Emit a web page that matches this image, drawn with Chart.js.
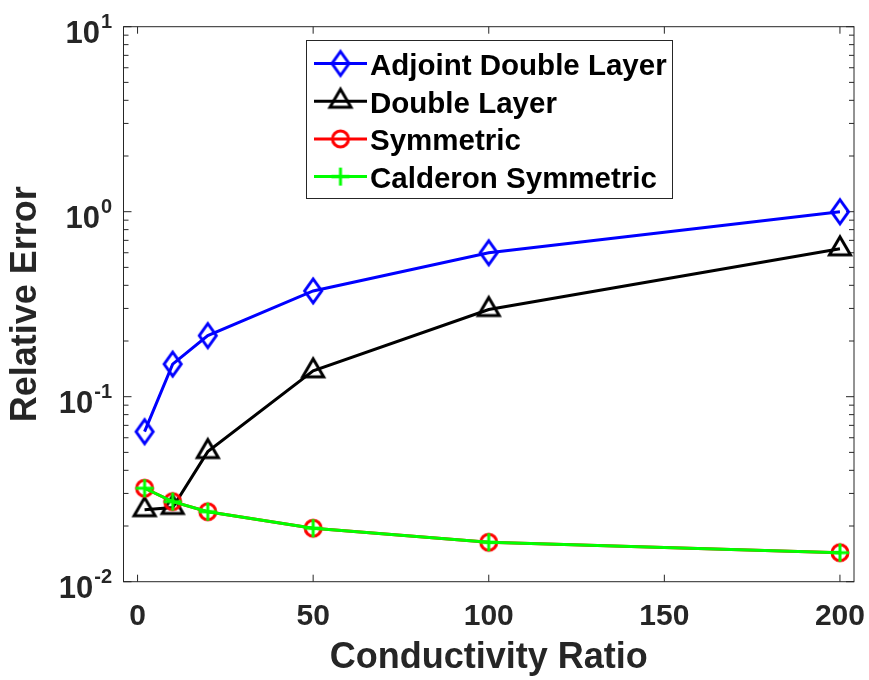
<!DOCTYPE html>
<html><head><meta charset="utf-8">
<script src="https://cdn.jsdelivr.net/npm/chart.js@4.4.0/dist/chart.umd.min.js"></script>
<style>html,body{margin:0;padding:0;background:#fff}#wrap{width:869px;height:680px}</style>
</head><body><div id="wrap"><canvas id="c" width="869" height="680"></canvas></div>
<script>
// ---- data ----
const conductivityRatio = [2, 10, 20, 50, 100, 200];
const adjointDoubleLayer = [0.0647, 0.150, 0.214, 0.373, 0.600, 1.0];
const doubleLayer = [0.0245, 0.0252, 0.0505, 0.138, 0.296, 0.63];
const symmetric = [0.0320, 0.0271, 0.0239, 0.01945, 0.01633, 0.01435];
const calderonSymmetric = [0.0320, 0.0271, 0.0239, 0.01945, 0.01633, 0.01435];
const seriesNames = ['Adjoint Double Layer', 'Double Layer', 'Symmetric', 'Calderon Symmetric'];
const xTickValues = [0, 50, 100, 150, 200];
const yDecades = [0.01, 0.1, 1, 10];
const yTickExponents = ['-2', '-1', '0', '1'];
const xAxisTitle = 'Conductivity Ratio';
const yAxisTitle = 'Relative Error';

const FONT = '"Liberation Sans", Arial, Helvetica, sans-serif';
const AXIS = '#262626';

function markerCanvas(type, color) {
  const c = document.createElement('canvas');
  let w = 26, h = 26;
  if (type === 'diamond') { w = 26; h = 32; }
  if (type === 'triangle') { w = 28; h = 32; }
  c.width = w; c.height = h;
  const g = c.getContext('2d');
  g.strokeStyle = color; g.lineWidth = 3; g.lineJoin = 'miter';
  const cx = w / 2, cy = h / 2;
  g.beginPath();
  if (type === 'diamond') {
    g.moveTo(cx, cy - 12); g.lineTo(cx + 8.5, cy); g.lineTo(cx, cy + 12); g.lineTo(cx - 8.5, cy); g.closePath();
  } else if (type === 'triangle') {
    g.moveTo(cx, cy - 12); g.lineTo(cx + 10.5, cy + 6); g.lineTo(cx - 10.5, cy + 6); g.closePath();
  } else if (type === 'circle') {
    g.arc(cx, cy, 8, 0, Math.PI * 2);
  } else if (type === 'plus') {
    g.moveTo(cx - 9, cy); g.lineTo(cx + 9, cy); g.moveTo(cx, cy - 9); g.lineTo(cx, cy + 9);
  }
  g.stroke();
  return c;
}

const markers = [
  markerCanvas('diamond', '#0000ff'),
  markerCanvas('triangle', '#000000'),
  markerCanvas('circle', '#ff0000'),
  markerCanvas('plus', '#00ff00')
];
const colors = ['#0000ff', '#000000', '#ff0000', '#00ff00'];
const seriesValues = [adjointDoubleLayer, doubleLayer, symmetric, calderonSymmetric];

const datasets = seriesNames.map((name, i) => ({
  label: name,
  data: conductivityRatio.map((x, j) => ({ x: x, y: seriesValues[i][j] })),
  borderColor: colors[i],
  backgroundColor: colors[i],
  borderWidth: 3,
  pointStyle: markers[i],
  pointRadius: 9,
  pointHoverRadius: 9,
  tension: 0,
  fill: false,
  order: 3 - i
}));

function yTickList() {
  const t = [];
  for (let k = 0; k < yDecades.length; k++) {
    t.push({ value: yDecades[k], major: true });
    if (k < yDecades.length - 1) {
      for (let m = 2; m <= 9; m++) t.push({ value: yDecades[k] * m, major: false });
    }
  }
  return t;
}

const framePlugin = {
  id: 'frame',
  beforeDatasetsDraw(chart) {
    const { ctx, chartArea: a } = chart;
    const xs = chart.scales.x, ys = chart.scales.y;
    ctx.save();
    ctx.strokeStyle = AXIS; ctx.lineWidth = 1;
    ctx.strokeRect(a.left, a.top, a.right - a.left, a.bottom - a.top);
    ctx.beginPath();
    xs.ticks.forEach(t => {
      const px = xs.getPixelForValue(t.value);
      ctx.moveTo(px, a.bottom); ctx.lineTo(px, a.bottom - 7);
      ctx.moveTo(px, a.top); ctx.lineTo(px, a.top + 7);
    });
    ys.ticks.forEach(t => {
      const py = ys.getPixelForValue(t.value);
      const L = t.major ? 8 : 5;
      ctx.moveTo(a.left, py); ctx.lineTo(a.left + L, py);
      ctx.moveTo(a.right, py); ctx.lineTo(a.right - L, py);
    });
    ctx.stroke();
    ctx.restore();
  },
  afterDraw(chart) {
    const { ctx, chartArea: a } = chart;
    const ys = chart.scales.y;
    ctx.save();
    ctx.fillStyle = AXIS;
    ctx.textAlign = 'right';
    ctx.textBaseline = 'alphabetic';
    const rightX = a.left - 11.5;
    yDecades.forEach((v, k) => {
      const py = ys.getPixelForValue(v);
      ctx.font = 'bold 20px ' + FONT;
      const ew = ctx.measureText(yTickExponents[k]).width;
      ctx.fillText(yTickExponents[k], rightX, py + 1.6);
      ctx.font = 'bold 31px ' + FONT;
      ctx.fillText('10', rightX - ew - 1, py + 16.6);
    });
    // legend
    const bx = 306, by = 40, bw = 366, bh = 158;
    ctx.fillStyle = '#ffffff';
    ctx.fillRect(bx, by, bw, bh);
    ctx.strokeStyle = AXIS; ctx.lineWidth = 1;
    ctx.strokeRect(bx + 0.5, by + 0.5, bw, bh);
    ctx.textAlign = 'left';
    ctx.font = 'bold 29.5px ' + FONT;
    chart.data.datasets.forEach((ds, i) => {
      const base = 75 + i * 37.7;
      const ly = base - 11.5;
      ctx.strokeStyle = ds.borderColor; ctx.lineWidth = 3;
      ctx.beginPath(); ctx.moveTo(314, ly); ctx.lineTo(367, ly); ctx.stroke();
      const img = ds.pointStyle;
      ctx.drawImage(img, 340.5 - img.width / 2, ly - img.height / 2);
      ctx.fillStyle = '#000000';
      ctx.fillText(ds.label, 370, base);
    });
    ctx.restore();
  }
};

new Chart(document.getElementById('c'), {
  type: 'line',
  data: { datasets: datasets },
  options: {
    responsive: false,
    animation: false,
    devicePixelRatio: 1,
    layout: { padding: { top: 26.7, right: 15, bottom: 0, left: 0 } },
    plugins: { legend: { display: false }, tooltip: { enabled: false } },
    scales: {
      x: {
        type: 'linear', min: -4, max: 204,
        afterBuildTicks: s => { s.ticks = xTickValues.map(v => ({ value: v })); },
        afterFit: s => { s.height = 98.3; s.paddingLeft = 0; s.paddingRight = 0; },
        grid: { display: false, drawTicks: false },
        border: { display: false },
        ticks: { color: AXIS, font: { family: FONT, size: 30, weight: 'bold' }, padding: 17, maxRotation: 0, autoSkip: false },
        title: { display: true, text: xAxisTitle, color: AXIS, font: { family: FONT, size: 36, weight: 'bold' }, padding: { top: 0, bottom: 0 } }
      },
      y: {
        type: 'logarithmic', min: 0.01, max: 10,
        afterBuildTicks: s => { s.ticks = yTickList(); },
        afterFit: s => { s.width = 123.5; s.paddingTop = 0; s.paddingBottom = 0; },
        grid: { display: false, drawTicks: false },
        border: { display: false },
        ticks: { display: false },
        title: { display: true, text: yAxisTitle, color: AXIS, font: { family: FONT, size: 36, weight: 'bold' }, padding: { top: 4, bottom: 0 } }
      }
    }
  },
  plugins: [framePlugin]
});
</script>
</body></html>
